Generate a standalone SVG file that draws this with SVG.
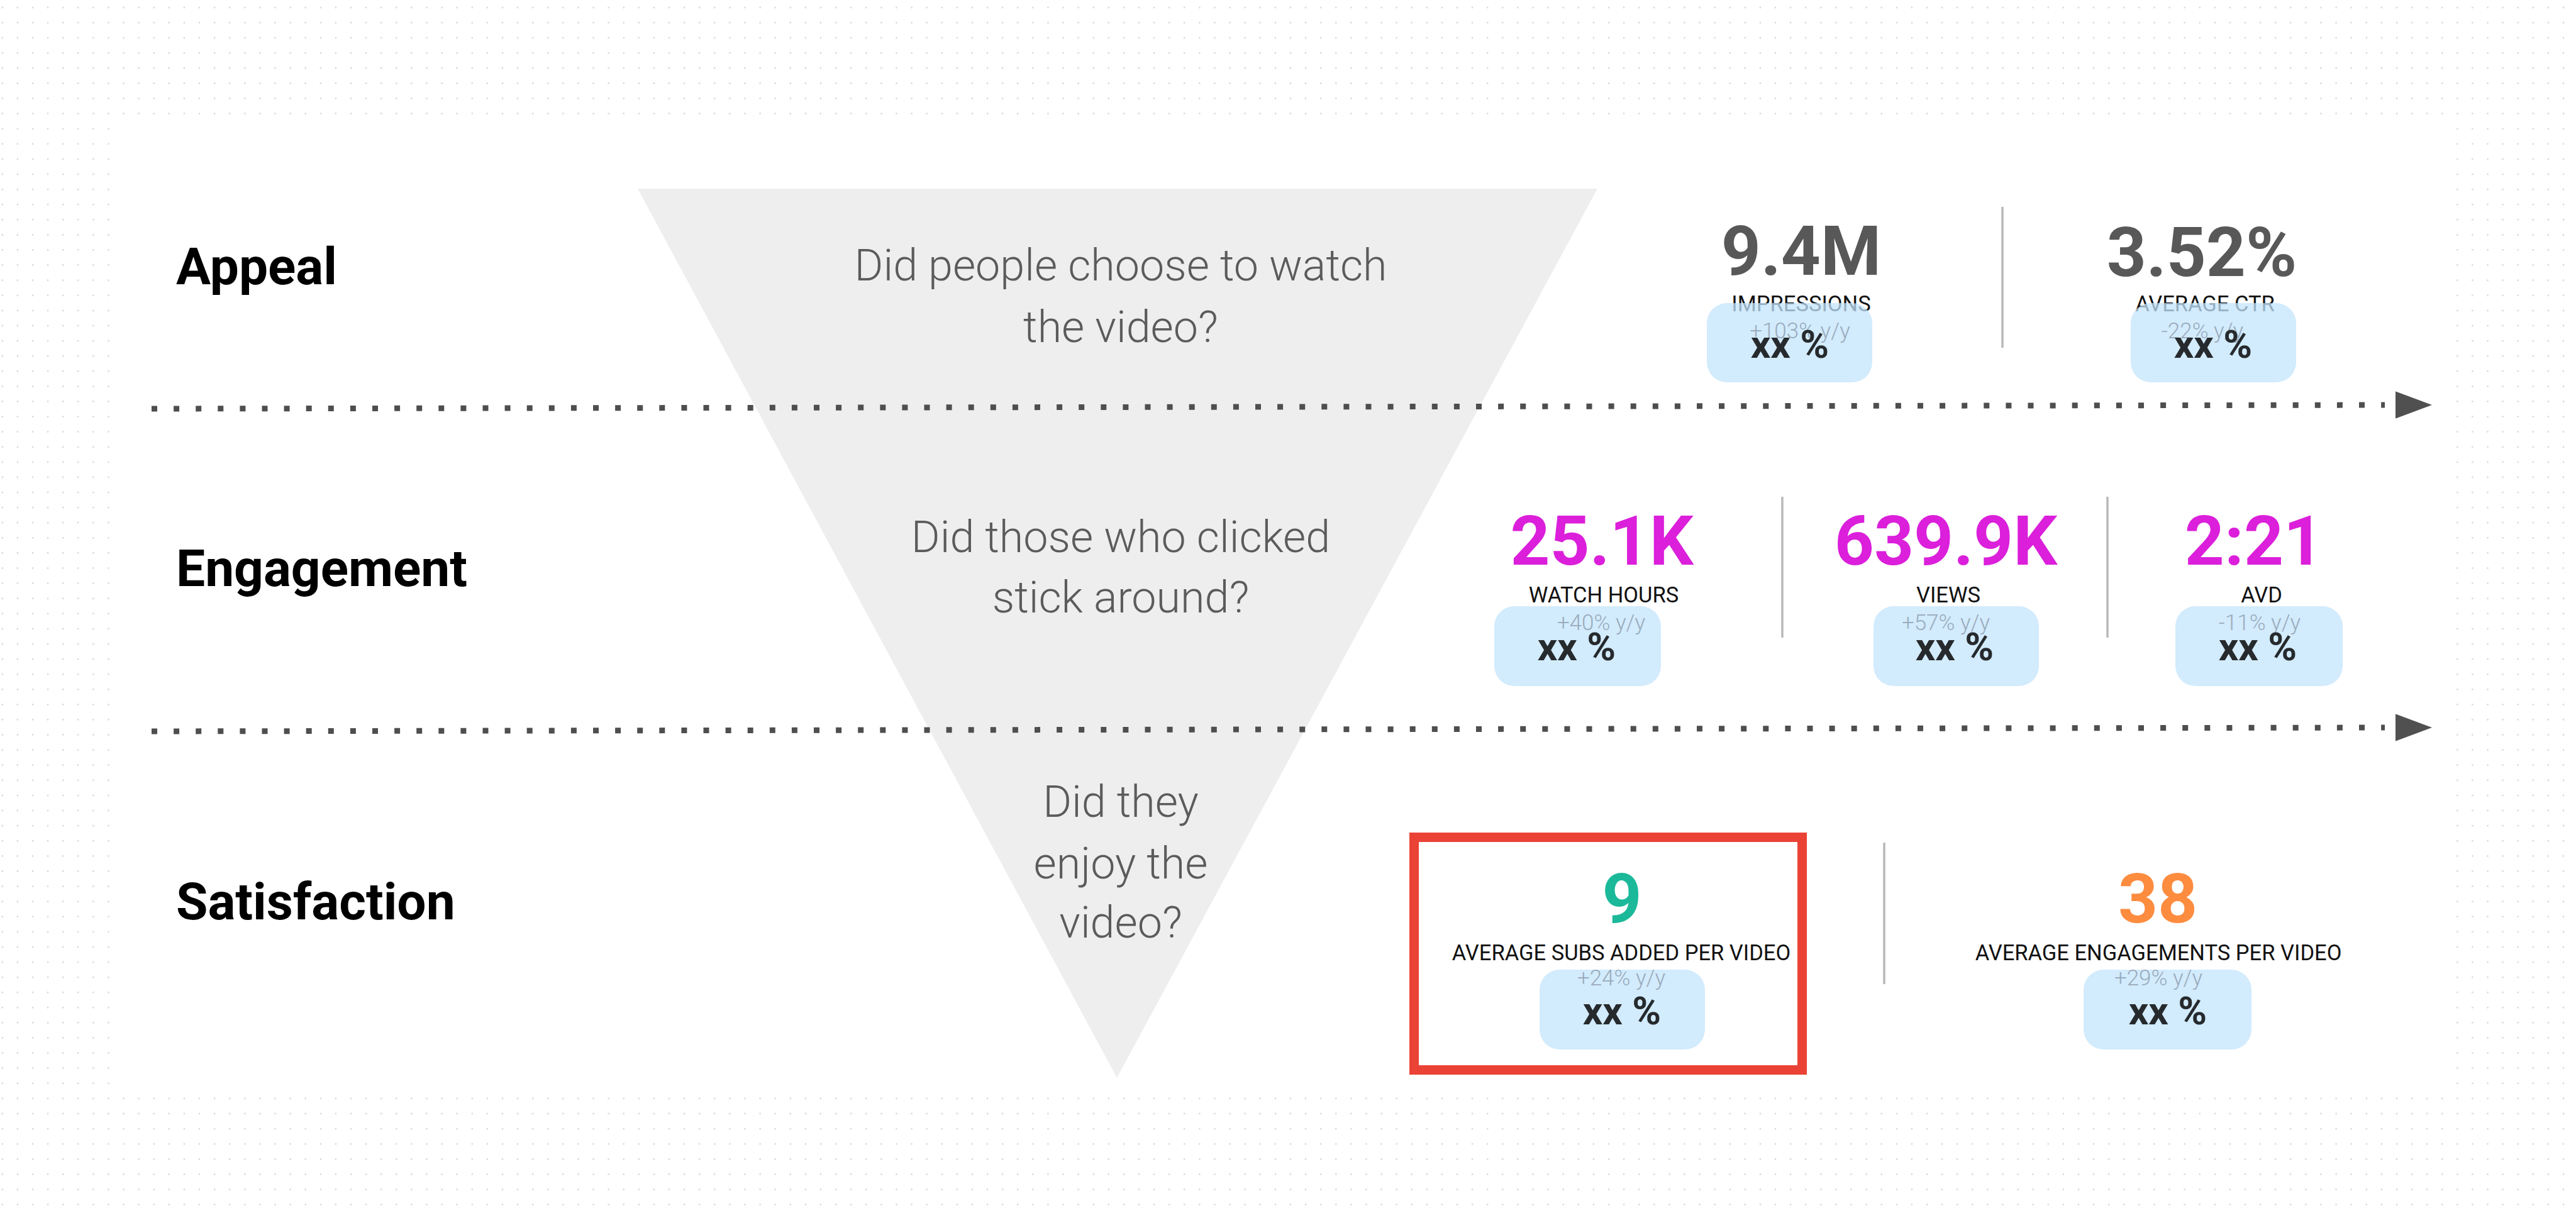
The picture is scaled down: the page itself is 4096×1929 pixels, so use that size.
<svg xmlns="http://www.w3.org/2000/svg" width="4096" height="1929" viewBox="0 0 4096 1929">
<defs>
<pattern id="dots" patternUnits="userSpaceOnUse" x="0" y="0" width="24.096" height="24.096">
<circle cx="3.8" cy="12" r="1.3" fill="#d4d4d4"/>
</pattern>
<style>
.lbl{font-family:Roboto,"Liberation Sans",sans-serif;font-weight:700;font-size:82px;fill:#000}
.q{font-family:Roboto,"Liberation Sans",sans-serif;font-weight:300;font-size:70px;fill:#5b5b5b;text-anchor:middle}
.num{font-family:Roboto,"Liberation Sans",sans-serif;font-weight:700;font-size:110px;text-anchor:middle}
.gray{fill:#585858}
.mag{fill:#db1fdb}
.grn{fill:#1bb99a}
.org{fill:#fd8c3f}
.cap{font-family:Roboto,"Liberation Sans",sans-serif;font-weight:400;font-size:34.5px;fill:#111;text-anchor:middle}
.yoy{font-family:Roboto,"Liberation Sans",sans-serif;font-weight:300;font-size:35px;fill:#9aabbb;text-anchor:middle}
.xx{font-family:Roboto,"Liberation Sans",sans-serif;font-weight:700;font-size:62px;fill:#262a2d;text-anchor:middle}
.pill{fill:#c3e4fc;fill-opacity:0.75}
.div{stroke:#b8b8b8;stroke-width:3.5}
.dotline{stroke:#4e4e4e;stroke-width:9;stroke-dasharray:9 26.1;fill:none}
.head{fill:#505050}
</style>
</defs>
<rect x="0" y="0" width="4096" height="1929" fill="#ffffff"/>
<rect x="0" y="0" width="4096" height="1929" fill="url(#dots)"/>
<rect x="187" y="193" width="3710" height="1542" fill="#ffffff"/>

<g id="funnel">
<polygon points="1014,300 2540,300 1776,1714" fill="#eeeeee"/>
</g>

<g id="connectors">
<line class="dotline" x1="241" y1="650" x2="3792" y2="644"/>
<polygon class="head" points="3809,622.5 3867,644 3809,665.5"/>
<line class="dotline" x1="241" y1="1163" x2="3792" y2="1157"/>
<polygon class="head" points="3809,1135.5 3867,1157 3809,1178.5"/>
</g>

<g id="label-appeal"><text class="lbl" x="280" y="452">Appeal</text></g>
<g id="label-engagement"><text class="lbl" x="280" y="932">Engagement</text></g>
<g id="label-satisfaction"><text class="lbl" x="280" y="1462">Satisfaction</text></g>

<g id="q-appeal">
<text class="q" x="1782" y="446">Did people choose to watch</text>
<text class="q" x="1782" y="544">the video?</text>
</g>
<g id="q-engagement">
<text class="q" x="1782" y="878">Did those who clicked</text>
<text class="q" x="1782" y="974">stick around?</text>
</g>
<g id="q-satisfaction">
<text class="q" x="1782" y="1299">Did they</text>
<text class="q" x="1782" y="1397">enjoy the</text>
<text class="q" x="1782" y="1491">video?</text>
</g>

<g id="dividers">
<line class="div" x1="3184" y1="329" x2="3184" y2="553"/>
<line class="div" x1="2834" y1="790" x2="2834" y2="1014"/>
<line class="div" x1="3351" y1="790" x2="3351" y2="1014"/>
<line class="div" x1="2996" y1="1340" x2="2996" y2="1565"/>
</g>

<g id="m-impressions">
<text class="num gray" x="2864" y="437">9.4M</text>
<text class="cap" x="2864" y="495">IMPRESSIONS</text>
<rect class="pill" x="2714" y="482" width="263" height="126" rx="32"/>
<text class="yoy" x="2862" y="538">+103% y/y</text>
<text class="xx" x="2846" y="569">xx %</text>
</g>
<g id="m-ctr">
<text class="num gray" x="3501" y="439">3.52%</text>
<text class="cap" x="3506" y="495">AVERAGE CTR</text>
<rect class="pill" x="3388" y="482" width="263" height="126" rx="32"/>
<text class="yoy" x="3502" y="538">-22% y/y</text>
<text class="xx" x="3519" y="569">xx %</text>
</g>

<g id="m-watch-hours">
<text class="num mag" x="2547" y="898">25.1K</text>
<text class="cap" x="2550" y="958">WATCH HOURS</text>
<rect class="pill" x="2376" y="964" width="265" height="127" rx="32"/>
<text class="yoy" x="2546" y="1002">+40% y/y</text>
<text class="xx" x="2507" y="1050">xx %</text>
</g>
<g id="m-views">
<text class="num mag" x="3094" y="898">639.9K</text>
<text class="cap" x="3098" y="958">VIEWS</text>
<rect class="pill" x="2979" y="964" width="263" height="127" rx="32"/>
<text class="yoy" x="3094" y="1002">+57% y/y</text>
<text class="xx" x="3108" y="1050">xx %</text>
</g>
<g id="m-avd">
<text class="num mag" x="3584" y="898">2:21</text>
<text class="cap" x="3596" y="958">AVD</text>
<rect class="pill" x="3459" y="964" width="266" height="127" rx="32"/>
<text class="yoy" x="3593" y="1002">-11% y/y</text>
<text class="xx" x="3590" y="1050">xx %</text>
</g>

<g id="m-subs">
<rect x="2248.5" y="1331.5" width="617" height="370" fill="none" stroke="#ea4335" stroke-width="15"/>
<text class="num grn" x="2579" y="1467">9</text>
<text class="cap" x="2578" y="1527">AVERAGE SUBS ADDED PER VIDEO</text>
<rect class="pill" x="2448" y="1542" width="263" height="127" rx="32"/>
<text class="yoy" x="2578" y="1567">+24% y/y</text>
<text class="xx" x="2579" y="1629">xx %</text>
</g>
<g id="m-engagements">
<text class="num org" x="3431" y="1467">38</text>
<text class="cap" x="3432" y="1527">AVERAGE ENGAGEMENTS PER VIDEO</text>
<rect class="pill" x="3313" y="1542" width="267" height="127" rx="32"/>
<text class="yoy" x="3432" y="1567">+29% y/y</text>
<text class="xx" x="3447" y="1629">xx %</text>
</g>
</svg>
